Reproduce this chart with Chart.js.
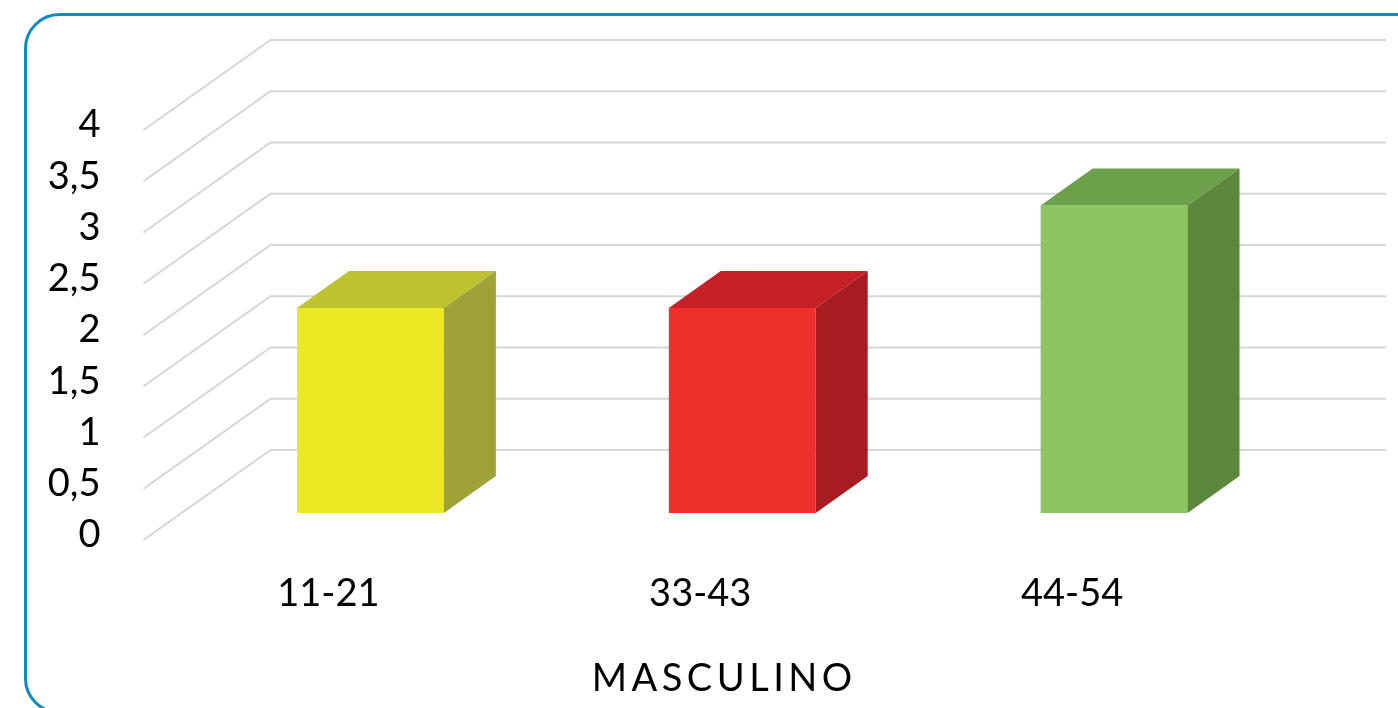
<!DOCTYPE html>
<html>
<head>
<meta charset="utf-8">
<script src="https://cdn.jsdelivr.net/npm/chart.js@4.4.1/dist/chart.umd.min.js"></script>
<style>
  html, body { margin: 0; padding: 0; background: #fff; }
  #wrap { width: 1398px; height: 708px; }
</style>
</head>
<body>
<div id="wrap"><canvas id="grafico" width="1398" height="708"></canvas></div>
<script>
const categorias = ['11-21', '33-43', '44-54'];
const valores = [2, 2, 3];
const escalaY = { min: 0, max: 4, passo: 0.5 };
const tituloEixo = 'MASCULINO';

// cores de cada barra: frente, topo e lado
const coresFrente = ['#ECE824', '#EE2F2C', '#8BC663'];
const coresTopo = ['#BEC22F', '#C52026', '#6CA04A'];
const coresLado = ['#9FA337', '#A61C21', '#5B883D'];

const fonte = { family: 'Lato', size: 38 };

// moldura azul arredondada
const moldura = {
    id: 'moldura',
    beforeDraw(chart) {
        const c = chart.ctx;
        c.save();
        c.fillStyle = '#fff';
        c.fillRect(0, 0, chart.width, chart.height);
        c.strokeStyle = '#1189C1';
        c.lineWidth = 3;
        c.beginPath();
        c.roundRect(25.5, 14.5, 1420, 698, 34);
        c.stroke();
        c.restore();
    }
};

// linhas de grade: parede lateral (diagonal) e parede de fundo
const paredes = {
    id: 'paredes',
    beforeDatasetsDraw(chart) {
        const { ctx, chartArea: a, scales: { y } } = chart;
        ctx.save();
        ctx.strokeStyle = '#d6d6d6';
        ctx.lineWidth = 2;
        y.ticks.forEach(t => {
            const py = y.getPixelForValue(t.value);
            ctx.beginPath();
            ctx.moveTo(a.left - 41, py + 27);
            ctx.lineTo(a.left + 86, py - 63);
            ctx.lineTo(a.right + 86, py - 63);
            ctx.stroke();
        });
        ctx.restore();
    }
};

// topo e lado das barras (efeito 3D)
const caixas = {
    id: 'caixas',
    afterDatasetsDraw(chart) {
        const ctx = chart.ctx;
        const dx = 52, dy = -37;
        chart.getDatasetMeta(0).data.forEach((bar, i) => {
            const { x, y, base, width } = bar.getProps(['x', 'y', 'base', 'width'], true);
            const l = x - width / 2, r = x + width / 2;
            ctx.save();
            ctx.fillStyle = coresTopo[i];
            ctx.beginPath();
            ctx.moveTo(l, y);
            ctx.lineTo(l + dx, y + dy);
            ctx.lineTo(r + dx, y + dy);
            ctx.lineTo(r, y);
            ctx.closePath();
            ctx.fill();
            ctx.fillStyle = coresLado[i];
            ctx.beginPath();
            ctx.moveTo(r, y);
            ctx.lineTo(r + dx, y + dy);
            ctx.lineTo(r + dx, base + dy);
            ctx.lineTo(r, base);
            ctx.closePath();
            ctx.fill();
            ctx.restore();
        });
    }
};

// título do eixo X, alinhado com o plano da frente
const tituloX = {
    id: 'tituloX',
    afterDraw(chart) {
        const { ctx, chartArea: a } = chart;
        ctx.save();
        ctx.font = '38px Lato';
        ctx.fillStyle = '#000';
        ctx.textBaseline = 'middle';
        ctx.textAlign = 'center';
        ctx.letterSpacing = '4.5px';
        ctx.fillText(tituloEixo, (a.left + a.right) / 2 - 18, 679);
        ctx.restore();
    }
};

const grafico = new Chart(document.getElementById('grafico'), {
    type: 'bar',
    data: {
        labels: categorias,
        datasets: [{
            data: valores,
            backgroundColor: coresFrente,
            borderWidth: 0,
            barPercentage: 0.395,
            categoryPercentage: 1
        }]
    },
    options: {
        responsive: false,
        animation: false,
        layout: { padding: { top: 103, right: 98, left: 0, bottom: 0 } },
        plugins: {
            legend: { display: false },
            tooltip: { enabled: false }
        },
        scales: {
            x: {
                grid: { display: false, drawTicks: false },
                border: { display: false },
                ticks: { color: '#000', font: fonte, padding: 58, labelOffset: -42 },
                afterFit(s) { s.height = 195; s.paddingLeft = 0; s.paddingRight = 0; }
            },
            y: {
                min: escalaY.min,
                max: escalaY.max,
                grid: { display: false, drawTicks: false },
                border: { display: false },
                ticks: {
                    stepSize: escalaY.passo,
                    color: '#000',
                    font: fonte,
                    padding: 84,
                    labelOffset: 22,
                    callback: v => String(v).replace('.', ',')
                },
                afterFit(s) { s.width = 184.5; s.paddingTop = 0; s.paddingBottom = 0; }
            }
        }
    },
    plugins: [moldura, paredes, caixas, tituloX]
});
</script>
</body>
</html>
